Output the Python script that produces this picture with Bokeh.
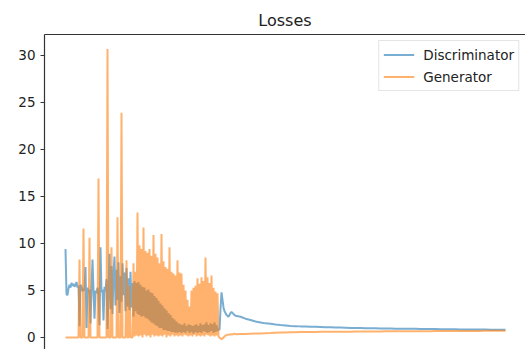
from bokeh.plotting import figure
from bokeh.models import Range1d, Legend, LegendItem, LinearAxis, FixedTicker
from bokeh.embed import file_html
from bokeh.resources import INLINE

# training iteration of each recorded loss value
steps = list(range(0, 1710, 10)) + list(range(1750, 4450, 50))

disc = [
    9.4, 4.6, 4.5, 5.2, 5.6, 5.3, 5.8, 5.5, 5.7, 5.4, 5.6, 5.9, 5.3, 5.5,
    1.2, 5.6, 5.4, 4.9, 5.2, 5.0, 7.5, 1.0, 5.3, 4.8, 5.1, 1.5, 5.2, 8.3, 4.9, 2.0, 5.0, 4.7, 5.3, 4.6,
    1.3, 9.6, 4.8, 5.1, 1.8, 5.4, 4.9, 6.2, 0.9, 5.0, 8.9, 3.0, 7.6, 2.5, 6.8, 8.6, 3.4, 7.2, 4.0, 8.0,
    2.6, 6.5, 3.8, 7.9, 4.5, 6.9, 2.8, 7.4, 3.3, 6.3, 2.9, 7.0, 3.2, 5.8, 2.2, 6.0, 2.8, 5.8, 2.5, 5.9,
    2.4, 5.6, 2.2, 5.4, 2.3, 5.3, 2.1, 5.0, 2.0, 5.1, 1.8, 4.8, 1.6, 4.7, 1.5, 4.4, 1.3, 4.2, 1.2, 3.9,
    1.0, 3.6, 1.0, 3.4, 0.8, 3.1, 0.8, 2.9, 0.7, 2.6, 0.7, 2.4, 0.6, 2.1, 0.6, 1.9, 0.5, 1.7, 0.5, 1.5,
    0.6, 1.4, 0.5, 1.3, 0.6, 1.5, 0.5, 1.2, 0.7, 1.4, 0.5, 1.3, 0.6, 1.2, 0.4, 1.3, 0.6, 1.4, 0.5, 1.2,
    0.6, 1.5, 0.5, 1.3, 0.7, 1.4, 0.6, 1.6, 0.5, 1.3, 0.6, 1.5, 0.7, 1.4, 0.5, 1.6, 0.6, 1.3, 0.7, 0.9,
    0.8, 3.0, 4.8, 4.0, 3.2, 2.8, 2.6, 2.4, 2.3, 2.2, 2.4, 2.6, 2.7, 2.6, 2.5, 2.4, 2.3,
    2.2, 2.0, 1.85, 1.7, 1.6, 1.5, 1.45, 1.38, 1.32, 1.27, 1.22, 1.2, 1.18, 1.17, 1.15, 1.14, 1.12, 1.1,
    1.08, 1.06, 1.05, 1.04, 1.02, 1.01, 1.0, 0.99, 0.98, 0.97, 0.96, 0.95, 0.95, 0.94, 0.93, 0.93, 0.92, 0.92,
    0.91, 0.9, 0.9, 0.89, 0.88, 0.88, 0.87, 0.87, 0.86, 0.86, 0.85, 0.85, 0.84, 0.84, 0.83, 0.83, 0.82, 0.82,
]

gen = [
    0.0, 0.0, 0.0, 0.0, 0.0, 0.0, 0.0, 0.0, 0.0, 0.0, 0.0, 0.0, 0.0, 0.0,
    8.3, 0.0, 0.0, 0.0, 11.6, 0.0, 0.0, 0.0, 0.0, 0.0, 10.6, 0.0, 0.0, 0.0, 0.0, 0.0, 0.0, 0.0, 0.0, 16.9,
    0.0, 0.0, 0.0, 0.0, 0.0, 0.0, 0.0, 0.0, 30.7, 0.0, 0.0, 0.0, 9.6, 0.0, 0.0, 0.0, 0.0, 0.0, 12.8, 0.0,
    0.0, 0.0, 23.9, 0.0, 0.0, 0.0, 0.0, 8.2, 0.0, 0.0, 5.5, 0.0, 0.0, 0.0, 7.9, 0.1, 7.0, 0.2, 13.3, 0.1,
    9.8, 0.2, 9.4, 0.0, 11.7, 0.3, 9.2, 0.1, 9.0, 0.2, 9.4, 0.0, 8.7, 0.3, 10.9, 0.1, 8.9, 0.2, 8.5, 0.1,
    7.9, 0.2, 11.0, 0.1, 8.1, 0.3, 7.5, 0.0, 7.3, 0.2, 9.6, 0.1, 7.0, 0.3, 6.8, 0.1, 6.6, 0.2, 8.2, 0.1,
    6.9, 0.2, 6.8, 0.1, 5.6, 0.3, 5.0, 0.2, 4.0, 0.1, 3.3, 0.2, 5.0, 0.1, 5.3, 0.3, 5.5, 0.1, 6.3, 0.2,
    5.7, 0.1, 6.4, 0.2, 6.0, 0.1, 8.5, 0.3, 6.4, 0.2, 5.8, 0.1, 6.6, 0.2, 5.3, 0.1, 4.9, 0.2, 4.7, 0.1,
    0.0, -0.1, -0.2, -0.1, 0.0, 0.1, 0.2, 0.25, 0.3, 0.3, 0.3, 0.35, 0.3, 0.35, 0.35, 0.4, 0.35,
    0.38, 0.38, 0.4, 0.42, 0.43, 0.45, 0.47, 0.5, 0.52, 0.53, 0.55, 0.56, 0.57, 0.58, 0.58, 0.59, 0.6, 0.6,
    0.61, 0.61, 0.62, 0.62, 0.62, 0.63, 0.63, 0.63, 0.64, 0.64, 0.64, 0.65, 0.65, 0.65, 0.66, 0.66, 0.66, 0.67,
    0.67, 0.67, 0.67, 0.68, 0.68, 0.68, 0.69, 0.69, 0.69, 0.7, 0.7, 0.7, 0.7, 0.71, 0.71, 0.71, 0.72, 0.72,
]

y_ticks = [0, 5, 10, 15, 20, 25, 30]
series_names = ["Discriminator", "Generator"]

assert len(disc) == len(steps) and len(gen) == len(steps), (len(steps), len(disc), len(gen))

FONT = "DejaVu Sans"
Y0, Y1 = -1.28, 32.23

p = figure(width=525, height=349, output_backend="svg", toolbar_location=None,
           x_range=Range1d(-210, 4600), y_range=Range1d(Y0, Y1),
           x_axis_type=None, title="Losses",
           min_border_left=44, min_border_right=0, min_border_top=34, min_border_bottom=0)
p.outline_line_color = None
p.ygrid.grid_line_color = None
p.background_fill_color = "white"
p.border_fill_color = "white"

p.title.text_font = FONT
p.title.text_font_size = "16px"
p.title.text_font_style = "normal"
p.title.text_color = "#222222"
p.title.align = "center"

ya = p.yaxis[0]
ya.ticker = y_ticks
ya.major_tick_in = 0
ya.major_tick_out = 4
ya.minor_tick_line_color = None
ya.axis_line_color = "#333333"
ya.axis_line_width = 1.2
ya.major_tick_line_color = "#333333"
ya.major_label_text_font = FONT
ya.major_label_text_font_size = "13.5px"
ya.major_label_text_color = "#222222"
ya.major_label_standoff = 5

# top spine: an axis line with no ticks or labels
top = LinearAxis(ticker=FixedTicker(ticks=[]), major_tick_in=0, major_tick_out=0,
                 minor_tick_in=0, minor_tick_out=0, major_label_text_font_size="0px",
                 axis_line_color="#333333", axis_line_width=1.2)
p.add_layout(top, "above")

r1 = p.line(steps, disc, line_color="#1f77b4", line_alpha=0.6, line_width=2)
r2 = p.line(steps, gen, line_color="#ff7f0e", line_alpha=0.6, line_width=2)

legend = Legend(items=[LegendItem(label=series_names[0], renderers=[r1]),
                       LegendItem(label=series_names[1], renderers=[r2])],
                location="top_right", margin=6, padding=4, spacing=3,
                glyph_width=31, glyph_height=19, label_height=19, label_standoff=9,
                label_text_font=FONT, label_text_font_size="13.5px", label_text_color="#222222",
                border_line_color="#cccccc", background_fill_alpha=0.8)
p.add_layout(legend)

open("out.html", "w").write(file_html(p, INLINE))
